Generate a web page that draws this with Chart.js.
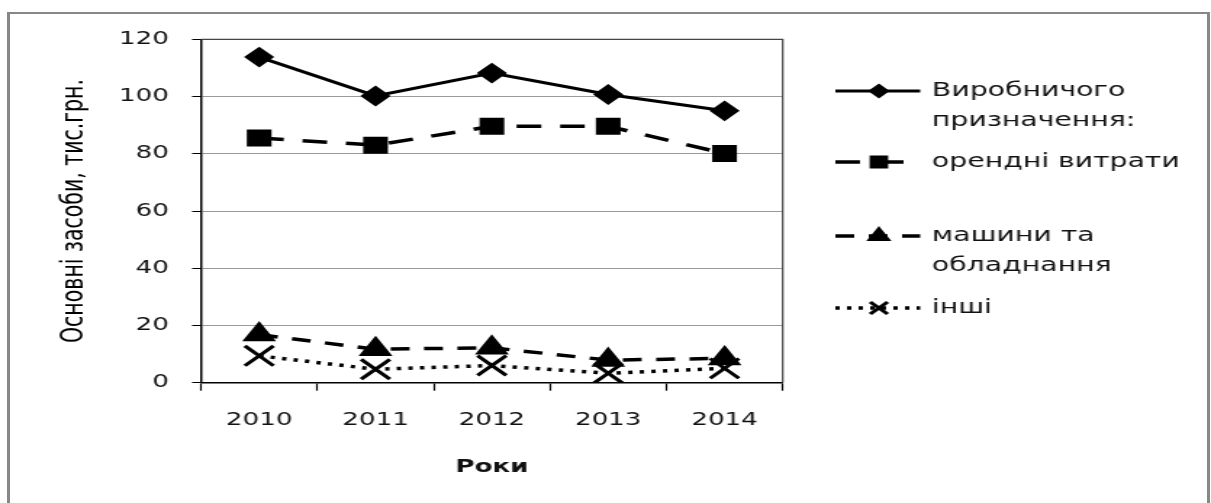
<!DOCTYPE html>
<html>
<head>
<meta charset="utf-8">
<script src="https://cdn.jsdelivr.net/npm/chart.js"></script>
<style>
    html, body { margin: 0; padding: 0; background: #fff; }
    body { width: 1211px; height: 503px; overflow: hidden; position: relative; }
    /* grey frame round the chart, open at the bottom */
    #frame {
        position: absolute; left: 7px; top: 12px; width: 1203px; height: 560px;
        box-sizing: border-box;
        border-left: 3.5px solid #878787; border-right: 3.5px solid #878787; border-top: 2px solid #878787;
    }
    /* the original picture is stretched sideways, so the whole canvas is stretched too */
    #stretch { position: absolute; left: 0; top: 0; width: 835px; height: 503px; transform: scaleX(1.4503); transform-origin: 0 0; }
</style>
</head>
<body>
<div id="frame"></div>
<div id="stretch"><canvas id="fixed-assets-chart" width="835" height="503"></canvas></div>
<script>
// Data
const years = ['2010', '2011', '2012', '2013', '2014'];
const vyrobnychogo = [113.8, 100.2, 108.2, 100.7, 95.0];
const orendni = [85.5, 83.0, 89.6, 89.6, 80.1];
const mashyny = [16.8, 11.7, 12.2, 7.9, 8.5];
const inshi = [9.4, 4.7, 6.0, 3.3, 5.0];

const seriesLabels = [['Виробничого', 'призначення:'], ['орендні витрати'], ['машини та', 'обладнання'], ['інші']];
const yTitle = 'Основні засоби, тис.грн.';
const xTitle = 'Роки';

const fontFamily = '"DejaVu Sans", Verdana, sans-serif';

// Legend drawn at the right side, the same way the spreadsheet does it
const sideLegend = {
    id: 'sideLegend',
    afterDraw(chart) {
        const ctx = chart.ctx;
        const rowsY = [91, 162, 236, 308];
        const markerR = [6, 8, 8.5, 8.5];

        chart.data.datasets.forEach((ds, i) => {
            const y = rowsY[i];
            ctx.save();
            ctx.strokeStyle = ds.borderColor;
            ctx.lineWidth = ds.borderWidth;
            ctx.setLineDash(ds.borderDash || []);
            ctx.beginPath();
            ctx.moveTo(576, y);
            ctx.lineTo(634.5, y);
            ctx.stroke();

            ctx.setLineDash([]);
            ctx.fillStyle = ds.pointBackgroundColor;
            ctx.strokeStyle = ds.pointBorderColor;
            ctx.lineWidth = ds.pointBorderWidth;
            Chart.helpers.drawPoint(ctx, {
                pointStyle: ds.pointStyle,
                radius: markerR[i],
                borderWidth: ds.pointBorderWidth,
                rotation: 0
            }, 606, y);

            ctx.fillStyle = '#111';
            ctx.font = '19.5px ' + fontFamily;
            ctx.textAlign = 'left';
            ctx.textBaseline = 'middle';
            seriesLabels[i].forEach((line, k) => {
                ctx.fillText(line, 642.6, y + k * 30);
            });
            ctx.restore();
        });
    }
};

// Dark border on the top and right of the plot area
const plotBorder = {
    id: 'plotBorder',
    beforeDatasetsDraw(chart) {
        const { ctx, chartArea } = chart;
        ctx.save();
        ctx.strokeStyle = '#444';
        ctx.lineWidth = 1.2;
        ctx.beginPath();
        ctx.moveTo(chartArea.left, chartArea.top);
        ctx.lineTo(chartArea.right, chartArea.top);
        ctx.lineTo(chartArea.right, chartArea.bottom);
        ctx.stroke();
        ctx.restore();
    }
};

const assetsChart = new Chart(document.getElementById('fixed-assets-chart').getContext('2d'), {
    type: 'line',
    data: {
        labels: years,
        datasets: [{
            label: seriesLabels[0].join(' '),
            data: vyrobnychogo,
            borderColor: '#000',
            borderWidth: 3,
            pointStyle: 'rectRot',
            pointRadius: 9,
            pointBorderWidth: 2,
            pointBackgroundColor: '#000',
            pointBorderColor: '#000'
        }, {
            label: seriesLabels[1].join(' '),
            data: orendni,
            borderColor: '#000',
            borderWidth: 3.5,
            borderDash: [17, 13],
            pointStyle: 'rect',
            pointRadius: 11,
            pointBorderWidth: 1.5,
            pointBackgroundColor: '#000',
            pointBorderColor: '#000'
        }, {
            label: seriesLabels[2].join(' '),
            data: mashyny,
            borderColor: '#000',
            borderWidth: 3.5,
            borderDash: [13, 10],
            pointStyle: 'triangle',
            pointRadius: 12,
            pointBorderWidth: 1.5,
            pointBackgroundColor: '#000',
            pointBorderColor: '#000'
        }, {
            label: seriesLabels[3][0],
            data: inshi,
            borderColor: '#000',
            borderWidth: 3.5,
            borderDash: [3, 5],
            pointStyle: 'crossRot',
            pointRadius: 14,
            pointBorderWidth: 3,
            pointBackgroundColor: '#000',
            pointBorderColor: '#000'
        }]
    },
    options: {
        responsive: false,
        animation: false,
        devicePixelRatio: 1,
        layout: { padding: { left: 0, top: 39.3, right: 295.3, bottom: 0 } },
        elements: { line: { tension: 0 } },
        plugins: {
            legend: { display: false },
            tooltip: { enabled: false }
        },
        scales: {
            x: {
                offset: true,
                grid: { offset: true, drawOnChartArea: false, drawTicks: true, tickLength: 8, tickColor: '#000', tickWidth: 1.2 },
                border: { display: true, color: '#000', width: 1.5 },
                ticks: { color: '#111', font: { family: fontFamily, size: 18 }, padding: 19, maxRotation: 0 },
                title: {
                    display: true,
                    text: xTitle,
                    color: '#111',
                    font: { family: fontFamily, size: 18, weight: 'bold' },
                    padding: { top: 0, bottom: 25 }
                },
                afterFit(scale) { scale.height = 120.3; }
            },
            y: {
                min: 0,
                max: 120,
                grid: { color: '#9a9a9a', lineWidth: 1, drawTicks: true, tickLength: 6.2, tickColor: '#000', tickWidth: 1 },
                border: { display: true, color: '#000', width: 1.5 },
                ticks: { stepSize: 20, color: '#111', font: { family: fontFamily, size: 18 }, padding: 16 },
                title: {
                    display: true,
                    text: yTitle,
                    color: '#000',
                    font: { family: fontFamily, size: 20.5 },
                    padding: { top: 39, bottom: 0 }
                },
                afterFit(scale) { scale.width = 138.6; }
            }
        }
    },
    plugins: [plotBorder, sideLegend]
});
</script>
</body>
</html>
